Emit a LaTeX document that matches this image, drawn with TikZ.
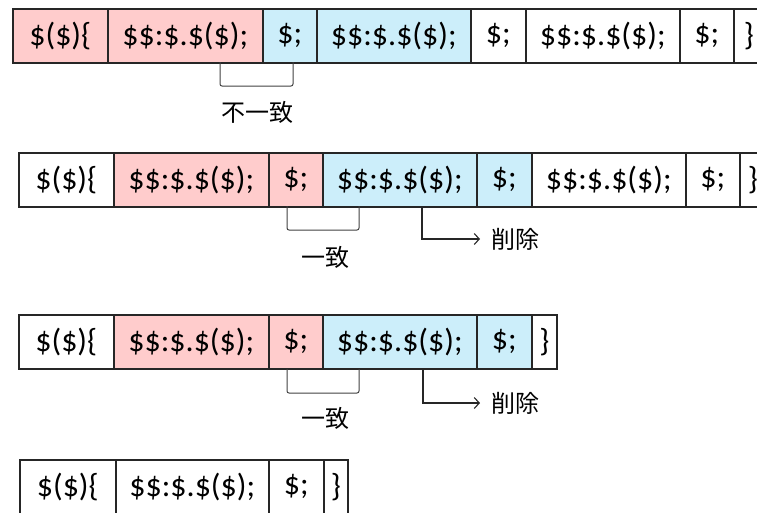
\documentclass[tikz,border=0pt]{standalone}
\usepackage{fontspec}
\setmainfont{Carlito}
\newfontfamily\jpfont{Noto Sans CJK JP}
\usetikzlibrary{arrows.meta}
\definecolor{pinkc}{HTML}{FFCCCC}
\definecolor{bluec}{HTML}{CCEEFA}
\definecolor{edgec}{HTML}{262626}
\definecolor{linec}{HTML}{404040}
\tikzset{
  cell/.style={draw=edgec, line width=1.6pt, minimum height=54pt, inner sep=0pt,
    anchor=north west, font=\fontsize{32}{32}\selectfont, text=black},
  pk/.style={fill=pinkc},
  bl/.style={fill=bluec},
  wh/.style={fill=white},
  bracketline/.style={draw=linec, line width=1pt, rounded corners=2pt},
  delarrow/.style={draw=edgec, line width=1.1pt, -{Straight Barb[length=5pt,width=11pt,line width=1.1pt]}},
  jplabel/.style={font=\jpfont\fontsize{24}{24}\selectfont, inner sep=0pt, text=black},
}
\begin{document}
\begin{tikzpicture}[x=1pt,y=1pt]
\useasboundingbox (0,0) rectangle (757,-512);
\clip (0,0) rectangle (757,-512);
% Row 1
\node[cell,pk,minimum width=95pt] (a1) at (12,-8) {\$(\$)\{};
\node[cell,pk,minimum width=155pt] (a2) at (107,-8) {\$\$:\$.\$(\$);};
\node[cell,bl,minimum width=54pt] (a3) at (262,-8) {\$;};
\node[cell,bl,minimum width=154pt] (a4) at (316,-8) {\$\$:\$.\$(\$);};
\node[cell,wh,minimum width=55pt] (a5) at (470,-8) {\$;};
\node[cell,wh,minimum width=154pt] (a6) at (525,-8) {\$\$:\$.\$(\$);};
\node[cell,wh,minimum width=54pt] (a7) at (679,-8) {\$;};
\node[cell,wh,minimum width=30pt] (a8) at (733,-8) {\}};
% Row 2
\node[cell,wh,minimum width=95pt] (b1) at (18,-152) {\$(\$)\{};
\node[cell,pk,minimum width=155pt] (b2) at (113,-152) {\$\$:\$.\$(\$);};
\node[cell,pk,minimum width=54pt] (b3) at (268,-152) {\$;};
\node[cell,bl,minimum width=154pt] (b4) at (322,-152) {\$\$:\$.\$(\$);};
\node[cell,bl,minimum width=55pt] (b5) at (476,-152) {\$;};
\node[cell,wh,minimum width=154pt] (b6) at (531,-152) {\$\$:\$.\$(\$);};
\node[cell,wh,minimum width=54pt] (b7) at (685,-152) {\$;};
\node[cell,wh,minimum width=26pt] (b8) at (739,-152) {\}};
% Row 3
\node[cell,wh,minimum width=95pt] (c1) at (18,-314) {\$(\$)\{};
\node[cell,pk,minimum width=155pt] (c2) at (113,-314) {\$\$:\$.\$(\$);};
\node[cell,pk,minimum width=54pt] (c3) at (268,-314) {\$;};
\node[cell,bl,minimum width=154pt] (c4) at (322,-314) {\$\$:\$.\$(\$);};
\node[cell,bl,minimum width=55pt] (c5) at (476,-314) {\$;};
\node[cell,wh,minimum width=25pt] (c6) at (531,-314) {\}};
% Row 4
\node[cell,wh,minimum width=96pt] (d1) at (19,-459) {\$(\$)\{};
\node[cell,wh,minimum width=153pt] (d2) at (115,-459) {\$\$:\$.\$(\$);};
\node[cell,wh,minimum width=55pt] (d3) at (268,-459) {\$;};
\node[cell,wh,minimum width=24pt] (d4) at (323,-459) {\}};
% Row 1 bracket
\coordinate (k1l) at (220,-62);
\coordinate (k1r) at (293,-62);
\draw[bracketline] (k1l) -- ++(0,-24) -| (k1r);
\node[jplabel] (t1) at (257,-112) {不一致};
% Row 2 bracket and arrow
\coordinate (k2l) at (287,-206);
\coordinate (k2r) at (359,-206);
\draw[bracketline] (k2l) -- ++(0,-24) -| (k2r);
\node[jplabel] (t2) at (325,-257) {一致};
\coordinate (s2) at (422,-206);
\coordinate (e2) at (480,-239);
\draw[delarrow] (s2) |- (e2);
\node[jplabel,anchor=west] (u2) at (491,-239) {削除};
% Row 3 bracket and arrow
\coordinate (k3l) at (287,-369);
\coordinate (k3r) at (359,-369);
\draw[bracketline] (k3l) -- ++(0,-24) -| (k3r);
\node[jplabel] (t3) at (325,-418) {一致};
\coordinate (s3) at (423,-369);
\coordinate (e3) at (480,-403);
\draw[delarrow] (s3) |- (e3);
\node[jplabel,anchor=west] (u3) at (491,-403) {削除};
\end{tikzpicture}
\end{document}
